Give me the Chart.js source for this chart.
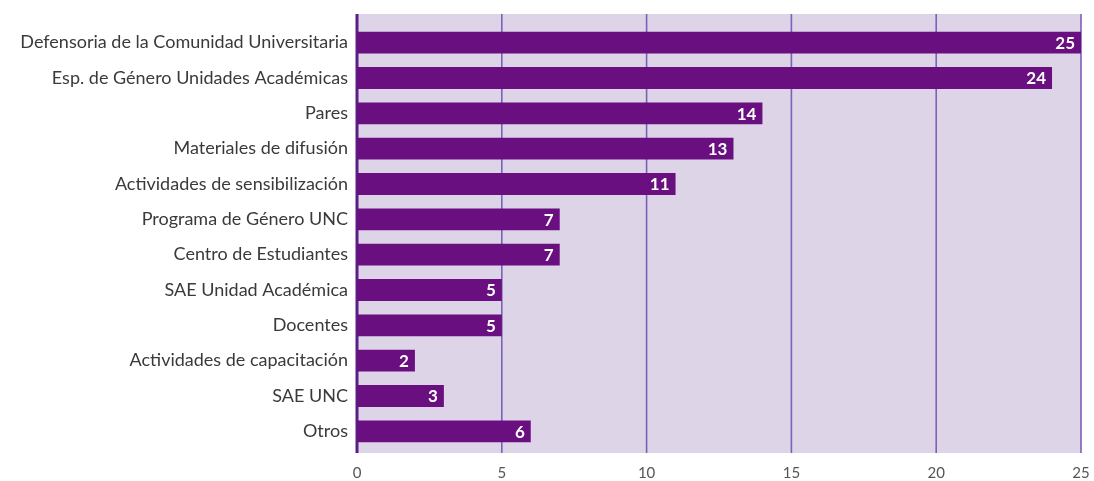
<!DOCTYPE html>
<html>
<head>
<meta charset="utf-8">
<script src="https://cdn.jsdelivr.net/npm/chart.js@4/dist/chart.umd.min.js"></script>
<style>
  html, body { margin: 0; padding: 0; background: #ffffff; }
  #wrap { width: 1094px; height: 481px; }
</style>
</head>
<body>
<div id="wrap"><canvas id="chart" width="1094" height="481"></canvas></div>
<script>
// categorias y valores
var categorias = [
  'Defensoria de la Comunidad Universitaria',
  'Esp. de Género Unidades Académicas',
  'Pares',
  'Materiales de difusión',
  'Actividades de sensibilización',
  'Programa de Género UNC',
  'Centro de Estudiantes',
  'SAE Unidad Académica',
  'Docentes',
  'Actividades de capacitación',
  'SAE UNC',
  'Otros'
];
var valores = [25, 24, 14, 13, 11, 7, 7, 5, 5, 2, 3, 6];
var ticksX = [0, 5, 10, 15, 20, 25];

var fondo = '#ddd4e8';
var colorBarra = '#6a0f80';
var colorGrid = '#7d60b8';
var colorCero = '#5a1f86';

// fondo lila + lineas verticales
var fondoPlugin = {
  id: 'fondo',
  beforeDatasetsDraw: function(chart) {
    var ctx = chart.ctx, a = chart.chartArea, x = chart.scales.x;
    var top = a.top - 11, bottom = a.bottom + 4;
    ctx.save();
    ctx.fillStyle = fondo;
    ctx.fillRect(a.left, top, a.right - a.left, bottom - top);
    ticksX.forEach(function(t) {
      var px = x.getPixelForValue(t);
      ctx.beginPath();
      ctx.strokeStyle = t == 0 ? colorCero : colorGrid;
      ctx.lineWidth = t == 0 ? 3 : 1.6;
      ctx.moveTo(px, top);
      ctx.lineTo(px, bottom);
      ctx.stroke();
    });
    ctx.restore();
  }
};

// etiquetas blancas dentro de las barras
var etiquetas = {
  id: 'etiquetas',
  afterDatasetsDraw: function(chart) {
    var ctx = chart.ctx;
    var meta = chart.getDatasetMeta(0);
    ctx.save();
    ctx.fillStyle = '#ffffff';
    ctx.font = 'bold 17px Lato';
    ctx.textAlign = 'right';
    ctx.textBaseline = 'middle';
    meta.data.forEach(function(bar, i) {
      ctx.fillText(valores[i], bar.x - 6, bar.y + 1);
    });
    ctx.restore();
  }
};

new Chart(document.getElementById('chart'), {
  type: 'bar',
  data: {
    labels: categorias,
    datasets: [{
      data: valores,
      backgroundColor: colorBarra,
      categoryPercentage: 1,
      barPercentage: 0.62
    }]
  },
  options: {
    indexAxis: 'y',
    responsive: false,
    animation: false,
    devicePixelRatio: 1,
    layout: { padding: { top: 25, right: 0, left: 0, bottom: 0 } },
    plugins: { legend: { display: false }, tooltip: { enabled: false } },
    scales: {
      x: {
        min: 0, max: 25,
        afterBuildTicks: function(s) { s.ticks = ticksX.map(function(v) { return { value: v }; }); },
        afterFit: function(s) { s.height = 32; s.paddingRight = 13; },
        grid: { display: false, drawTicks: false },
        border: { display: false },
        ticks: { color: '#555555', font: { family: 'Lato', size: 15 }, padding: 15 }
      },
      y: {
        afterFit: function(s) { s.width = 357; },
        grid: { display: false, drawTicks: false },
        border: { display: false },
        ticks: { color: '#3a3a3a', font: { family: 'Lato', size: 18 }, padding: 9, autoSkip: false }
      }
    }
  },
  plugins: [fondoPlugin, etiquetas]
});
</script>
</body>
</html>
